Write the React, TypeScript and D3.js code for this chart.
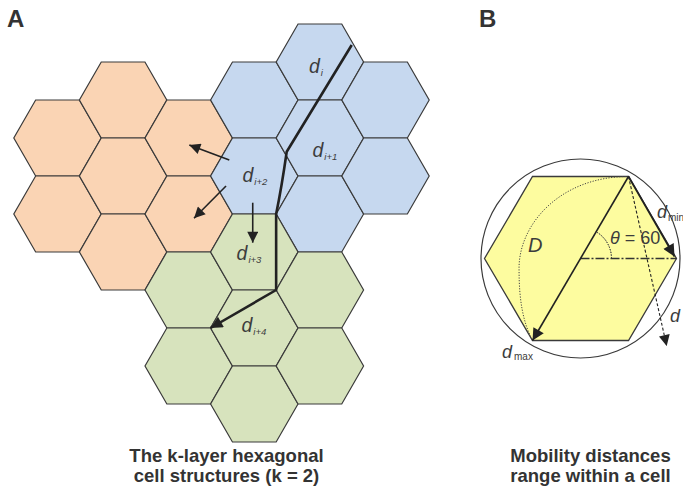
import React from "react";
import * as d3 from "d3";

// ---- Panel A data: hex cells (column, half-row) per cluster ----
const orangeCells: [number, number][] = [[0, 3], [0, 5], [1, 2], [1, 4], [1, 6], [2, 3], [2, 5]];
const blueCells: [number, number][] = [[3, 2], [3, 4], [4, 1], [4, 3], [4, 5], [5, 2], [5, 4]];
const greenCells: [number, number][] = [[2, 7], [2, 9], [3, 6], [3, 8], [3, 10], [4, 7], [4, 9]];

// movement path (column, half-row)
const movePath: [number, number][] = [[4.485, 0.553], [3.494, 3.361], [3.333, 5], [3.333, 7], [2.333, 8]];
// arrows out of d_{i+2}
const sideArrows: [[number, number], [number, number]][] = [
  [[2.619, 3.579], [2.009, 3.184]],
  [[2.569, 4.263], [2.081, 5.113]],
  [[2.976, 4.703], [2.976, 5.755]],
];
// labels (column, half-row, subscript)
const cellLabels: [number, number, string][] = [
  [3.834, 1.289, "i"],
  [3.887, 3.5, "i+1"],
  [2.82, 4.145, "i+2"],
  [2.729, 6.211, "i+3"],
  [2.805, 8.105, "i+4"],
];
const captionA = ["The k-layer hexagonal", "cell structures (k = 2)"];
const captionB = ["Mobility distances", "range within a cell"];

const W = 683, H = 492;
const xA = d3.scaleLinear().domain([0, 5]).range([57.5, 385.5]);
const yA = d3.scaleLinear().domain([0, 10]).range([24, 404]);
const SX = 43.7, SY = 38;

// Panel B unit geometry
const xB = d3.scaleLinear().domain([-1, 1]).range([484.5, 676.5]);
const yB = d3.scaleLinear().domain([-1, 1]).range([258.5 - 94.7, 258.5 + 94.7]);
const S3 = Math.sqrt(3) / 2;
const hexUnit: [number, number][] = [[1, 0], [0.5, S3], [-0.5, S3], [-1, 0], [-0.5, -S3], [0.5, -S3]];

const hexLine = d3.line<[number, number]>().curve(d3.curveLinearClosed);

function hexAt(cx: number, cy: number, sx: number, sy: number) {
  return hexLine(hexUnit.map(([u, v]) => [cx + u * sx, cy + (v / S3) * sy]));
}

const FONT = "Liberation Sans, Arial, sans-serif";
const LBL = "#3c3c3c";

export default function App() {
  const lineA = d3.line<[number, number]>().x((d) => xA(d[0])).y((d) => yA(d[1]));
  const p = movePath.map(([c, r]) => [xA(c), yA(r)] as [number, number]);
  const thickD = `M${p[0][0]},${p[0][1]} L${p[1][0]},${p[1][1]} Q${p[1][0] - 5},${(p[1][1] + p[2][1]) / 2 + 4} ${p[2][0]},${p[2][1]} L${p[3][0]},${p[3][1]} L${p[4][0]},${p[4][1]}`;

  const groups: [string, [number, number][]][] = [
    ["#FAD4B4", orangeCells],
    ["#C6D8EF", blueCells],
    ["#D7E3BD", greenCells],
  ];

  // Panel B
  const cx = xB(0), cy = yB(0);
  const vTR: [number, number] = [xB(0.5), yB(-S3)];
  const vBL: [number, number] = [xB(-0.5), yB(S3)];
  const vR: [number, number] = [xB(1), yB(0)];
  const dashEnd: [number, number] = [xB(0.898), yB(0.924)];
  const arcPts: [number, number][] = [[0.5, -S3], [-0.21, -0.865], [-0.65, -0.36], [-0.64, 0.12], [-0.64, 0.44], [-0.6, 0.67], [-0.5, S3]];
  const ap = arcPts.map(([u, v]) => [xB(u), yB(v)]);
  const dotArc = `M${ap[0]} C${ap[1]} ${ap[2]} ${ap[3]} C${ap[4]} ${ap[5]} ${ap[6]}`;
  const angArc = d3.arc()({ innerRadius: 31, outerRadius: 31, startAngle: Math.PI / 2, endAngle: Math.PI / 2 - (59 * Math.PI) / 180 } as any);

  return (
    <svg width={W} height={H} style={{ position: "absolute", left: 0, top: 0, background: "#fff" }} fontFamily={FONT}>
      <defs>
        <marker id="headBig" viewBox="0 0 10 10" refX="10" refY="5" markerWidth="16" markerHeight="12" markerUnits="userSpaceOnUse" orient="auto">
          <path d="M0,0 L10,5 L0,10 z" fill="#222" />
        </marker>
        <marker id="headSm" viewBox="0 0 10 10" refX="10" refY="5" markerWidth="14" markerHeight="11" markerUnits="userSpaceOnUse" orient="auto">
          <path d="M0,0 L10,5 L0,10 z" fill="#222" />
        </marker>
      </defs>
      <rect width={W} height={H} fill="#fff" />
      {/* Panel A */}
      <text x={7} y={27} fontSize={24} fontWeight="bold" fill="#333">A</text>
      {groups.map(([fill, cells], gi) =>
        cells.map(([c, r], i) => (
          <path key={`${gi}-${i}`} d={hexAt(xA(c), yA(r), SX, SY) || ""} fill={fill} stroke="#3a3a3a" strokeWidth={1.2} />
        ))
      )}
      <path d={thickD} fill="none" stroke="#222" strokeWidth={2.6} strokeLinejoin="round" markerEnd="url(#headBig)" />
      {sideArrows.map((a, i) => (
        <path key={i} d={lineA(a) || ""} fill="none" stroke="#222" strokeWidth={1.6} markerEnd="url(#headSm)" />
      ))}
      {cellLabels.map(([c, r, s], i) => (
        <text key={i} x={xA(c)} y={yA(r)} fill={LBL} fontStyle="italic">
          <tspan fontSize={19.5}>d</tspan>
          <tspan fontSize={9.5} dx={1} dy={3}>{s}</tspan>
        </text>
      ))}
      {captionA.map((t, i) => (
        <text key={i} x={226.5} y={462 + i * 19.5} textAnchor="middle" fontSize={18.5} fontWeight="bold" fill="#333">{t}</text>
      ))}

      {/* Panel B */}
      <text x={479} y={27} fontSize={24} fontWeight="bold" fill="#333">B</text>
      <circle cx={cx} cy={cy} r={99.5} fill="#fff" stroke="#3a3a3a" strokeWidth={1.2} />
      <path d={hexLine(hexUnit.map(([u, v]) => [xB(u), yB(v)])) || ""} fill="#FDFC9F" stroke="#3a3a3a" strokeWidth={1.3} />
      <path d={dotArc} fill="none" stroke="#444" strokeWidth={1} strokeDasharray="1.2,1.5" />
      <path d={angArc || ""} transform={`translate(${cx},${cy})`} fill="none" stroke="#444" strokeWidth={1} strokeDasharray="1.2,1.5" />
      <line x1={cx} y1={cy} x2={vR[0]} y2={vR[1]} stroke="#333" strokeWidth={1.3} strokeDasharray="9,2,2,2" />
      <line x1={vTR[0]} y1={vTR[1]} x2={vBL[0]} y2={vBL[1]} stroke="#222" strokeWidth={1.6} markerEnd="url(#headBig)" />
      <line x1={vTR[0]} y1={vTR[1]} x2={vR[0] - 2} y2={vR[1] - 2} stroke="#222" strokeWidth={1.8} markerEnd="url(#headBig)" />
      <line x1={vTR[0]} y1={vTR[1]} x2={dashEnd[0]} y2={dashEnd[1]} stroke="#222" strokeWidth={1.1} strokeDasharray="3,2" markerEnd="url(#headSm)" />
      <text x={528} y={252} fontSize={20} fontStyle="italic" fill={LBL}>D</text>
      <text x={610} y={244} fontSize={18} fill={LBL}>
        <tspan fontStyle="italic">θ</tspan> = 60
      </text>
      <text x={657} y={218} fill={LBL}>
        <tspan fontSize={18} fontStyle="italic">d</tspan>
        <tspan fontSize={10} dx={1} dy={3}>min</tspan>
      </text>
      <text x={670} y={322} fontSize={18} fontStyle="italic" fill={LBL}>d</text>
      <text x={502} y={358} fill={LBL}>
        <tspan fontSize={18} fontStyle="italic">d</tspan>
        <tspan fontSize={10} dx={2} dy={2}>max</tspan>
      </text>
      {captionB.map((t, i) => (
        <text key={i} x={590.5} y={462 + i * 19.5} textAnchor="middle" fontSize={18.5} fontWeight="bold" fill="#333">{t}</text>
      ))}
    </svg>
  );
}
